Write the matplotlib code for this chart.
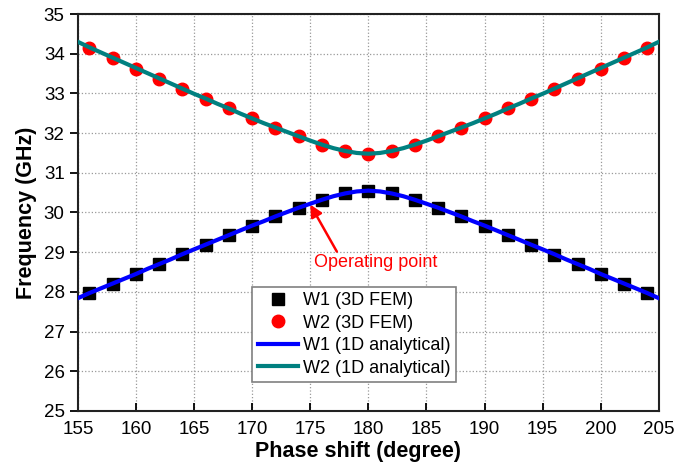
import matplotlib
matplotlib.use("Agg")
import matplotlib.pyplot as plt

plt.rcParams['font.family'] = ['Liberation Sans', 'DejaVu Sans']

# 3D FEM points
phase_fem = [156, 158, 160, 162, 164, 166, 168, 170, 172, 174, 176, 178, 180,
             182, 184, 186, 188, 190, 192, 194, 196, 198, 200, 202, 204]
w1_fem = [27.98, 28.21, 28.45, 28.70, 28.95, 29.19, 29.43, 29.66, 29.90, 30.12, 30.32, 30.49, 30.55,
          30.49, 30.32, 30.12, 29.90, 29.66, 29.42, 29.18, 28.94, 28.70, 28.46, 28.21, 27.98]
w2_fem = [34.14, 33.89, 33.62, 33.37, 33.12, 32.87, 32.62, 32.37, 32.14, 31.93, 31.71, 31.56, 31.48,
          31.55, 31.71, 31.92, 32.14, 32.37, 32.62, 32.87, 33.12, 33.37, 33.62, 33.89, 34.14]

# 1D analytical curves (read every degree)
phase_1d = list(range(155, 206))
w1_1d = [27.84, 27.97, 28.09, 28.21, 28.33, 28.45, 28.58, 28.70, 28.82, 28.95,
         29.07, 29.19, 29.31, 29.43, 29.55, 29.67, 29.78, 29.90, 30.01, 30.12,
         30.22, 30.32, 30.41, 30.48, 30.53, 30.55,
         30.53, 30.48, 30.41, 30.32, 30.22, 30.12, 30.01, 29.90, 29.78, 29.67,
         29.55, 29.43, 29.31, 29.19, 29.07, 28.95, 28.82, 28.70, 28.58, 28.45,
         28.33, 28.21, 28.09, 27.97, 27.84]
w2_1d = [34.30, 34.16, 34.03, 33.90, 33.77, 33.64, 33.51, 33.38, 33.25, 33.12,
         32.99, 32.87, 32.74, 32.62, 32.49, 32.37, 32.25, 32.14, 32.03, 31.92,
         31.81, 31.71, 31.62, 31.55, 31.50, 31.48,
         31.50, 31.55, 31.62, 31.71, 31.81, 31.92, 32.03, 32.14, 32.25, 32.37,
         32.49, 32.62, 32.74, 32.87, 32.99, 33.12, 33.25, 33.38, 33.51, 33.64,
         33.77, 33.90, 34.03, 34.16, 34.30]

fig = plt.figure(figsize=(6.95, 4.68), dpi=100)
ax = fig.add_axes([0.112, 0.122, 0.836, 0.848])

ax.plot(phase_fem, w1_fem, 's', color='black', markersize=8, label='W1 (3D FEM)', zorder=3)
ax.plot(phase_fem, w2_fem, 'o', color='red', markersize=9, label='W2 (3D FEM)', zorder=3)
ax.plot(phase_1d, w1_1d, '-', color='#0000ff', linewidth=3, label='W1 (1D analytical)', zorder=4)
ax.plot(phase_1d, w2_1d, '-', color='#008080', linewidth=3, label='W2 (1D analytical)', zorder=4)

ax.set_xlim(155, 205)
ax.set_ylim(25, 35)
ax.set_xticks(range(155, 206, 5))
ax.set_yticks(range(25, 36))
ax.grid(True, linestyle=':', color='#999999', linewidth=0.9)
ax.tick_params(axis='x', direction='in', length=6, width=1.3, labelsize=13.5, pad=7)
ax.tick_params(axis='y', direction='out', length=6, width=1.3, labelsize=13.5)
for s in ax.spines.values():
    s.set_linewidth(1.5)
    s.set_color('#222222')

ax.set_xlabel('Phase shift (degree)', fontsize=15.5, fontweight='bold')
ax.xaxis.set_label_coords(0.482, -0.077)
ax.set_ylabel('Frequency (GHz)', fontsize=15.5, fontweight='bold', labelpad=5)

ax.annotate('Operating point', xy=(175.0, 30.2), xytext=(175.3, 28.73),
            color='red', fontsize=13, va='center', ha='left',
            arrowprops=dict(arrowstyle='-|>', color='red', lw=1.8, mutation_scale=18,
                            shrinkA=0, shrinkB=0, relpos=(0.2, 1.0)))

leg = ax.legend(loc='lower left', bbox_to_anchor=(0.285, 0.05), fontsize=13,
                fancybox=False, edgecolor='gray', framealpha=1, handlelength=2.2,
                borderpad=0.3, labelspacing=0.3, handletextpad=0.3, numpoints=1)
leg.get_frame().set_linewidth(1.2)

fig.savefig('out.png', dpi=100)
